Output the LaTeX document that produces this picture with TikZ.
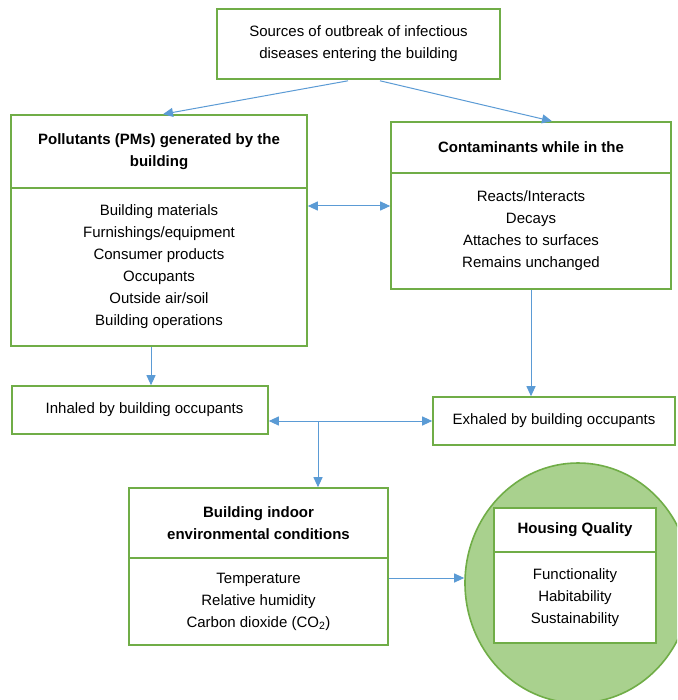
\documentclass[tikz,border=0pt]{standalone}
\usepackage{fontspec}
\setmainfont{Liberation Sans}
\usetikzlibrary{arrows.meta,shapes.geometric}
\definecolor{boxgreen}{HTML}{70AD47}
\definecolor{circfill}{HTML}{A9D18E}
\definecolor{arrblue}{HTML}{5B9BD5}
\begin{document}
\begin{tikzpicture}[x=1pt,y=-1pt,
  box/.style={draw=boxgreen,line width=1.6pt,fill=white,inner sep=0pt,align=center,
    font=\fontsize{15}{22}\selectfont},
  hbox/.style={box,font=\fontsize{15}{22}\selectfont\bfseries},
  conn/.style={draw=arrblue,line width=1pt,-{Triangle[length=10pt,width=9pt]}},
  dconn/.style={draw=arrblue,line width=1pt,{Triangle[length=10pt,width=9pt]}-{Triangle[length=10pt,width=9pt]}},
  plain/.style={draw=arrblue,line width=1pt}]
\clip (0,0) rectangle (677,700);
\fill[white] (0,0) rectangle (677,700);

% circle
\node[ellipse,draw=boxgreen,line width=1.6pt,fill=circfill,minimum width=226pt,minimum height=240pt,inner sep=0pt] (circ) at (578,583) {};

% top box
\node[box,minimum width=283pt,minimum height=70pt] (src) at (358.5,44) {\raisebox{-2pt}{\parbox{280pt}{\centering Sources of outbreak of infectious\\diseases entering the building}}};

% pollutants
\node[hbox,minimum width=296pt,minimum height=73pt] (polH) at (159,151.5) {Pollutants (PMs) generated by the\\building};
\node[box,minimum width=296pt,minimum height=158pt] (polB) at (159,267) {\raisebox{-2pt}{\parbox{290pt}{\centering Building materials\\Furnishings/equipment\\Consumer products\\Occupants\\Outside air/soil\\Building operations}}};

% contaminants
\node[hbox,minimum width=280pt,minimum height=51pt] (conH) at (531,147.5) {Contaminants while in the};
\node[box,minimum width=280pt,minimum height=116pt] (conB) at (531,231) {\raisebox{-2pt}{\parbox{276pt}{\centering Reacts/Interacts\\Decays\\Attaches to surfaces\\Remains unchanged}}};

% inhaled / exhaled
\node[box,minimum width=256pt,minimum height=48pt] (inh) at (140,410) {\hspace{9pt}Inhaled by building occupants};
\node[box,minimum width=242pt,minimum height=48pt] (exh) at (554,421) {Exhaled by building occupants};

% building indoor
\node[hbox,minimum width=259pt,minimum height=70pt] (bldH) at (258.5,523) {Building indoor\\environmental conditions};
\node[box,minimum width=259pt,minimum height=87pt] (bldB) at (258.5,601.5) {\raisebox{-2pt}{\parbox{255pt}{\centering Temperature\\Relative humidity\\Carbon dioxide (CO\textsubscript{2})}}};

% housing quality
\node[hbox,minimum width=162pt,minimum height=44pt] (hqH) at (575,530) {\raisebox{-2pt}{Housing Quality}};
\node[box,minimum width=162pt,minimum height=91pt] (hqB) at (575,597.5) {Functionality\\Habitability\\Sustainability};

% connectors
\draw[conn] ([xshift=-10.5pt,yshift=-1pt]src.south) -- ([xshift=4pt]polH.north);
\draw[conn] ([xshift=21.5pt,yshift=-1pt]src.south) -- ([xshift=21pt]conH.north);
\draw[dconn] ([yshift=61pt]polB.east) -- ([yshift=61pt]polB.east -| conB.west);
\draw[conn] ([xshift=-8pt]polB.south) -- ([xshift=-8pt]polB.south |- inh.north);
\draw[conn] (conB.south) -- (conB.south |- exh.north);
\draw[dconn] (inh.east |- exh.west) -- (exh.west);
\coordinate (j) at (318,421);
\draw[conn] (j) -- (j |- bldH.north);
\draw[conn] ([yshift=23.5pt]bldB.east) -- ([yshift=23.5pt]bldB.east -| circ.west);
\end{tikzpicture}
\end{document}
